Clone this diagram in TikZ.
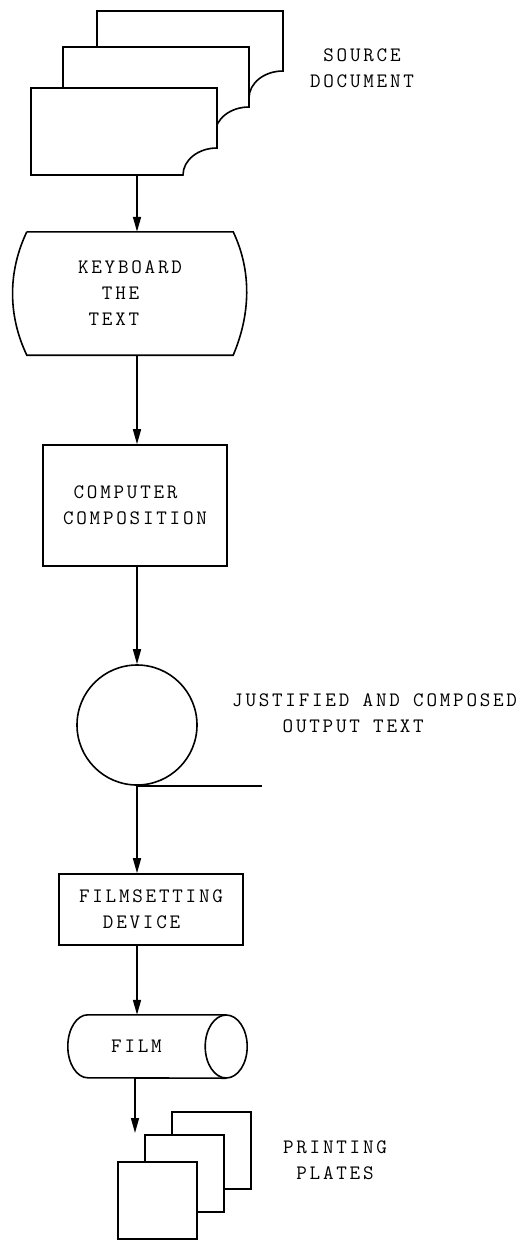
\documentclass[tikz,border=0pt]{standalone}
\usepackage{fontspec}
\setmonofont{Latin Modern Mono}[LetterSpace=13.5]
\usetikzlibrary{arrows.meta,positioning,calc}

\begin{document}
\begin{tikzpicture}[
    x=1pt, y=-1pt,
    font=\ttfamily\fontsize{20.5}{26}\selectfont,
    box/.style={draw, line width=1.6pt, inner sep=0pt, align=left},
    blank/.style={inner sep=0pt, align=left},
    sheet/.style={draw, fill=white, line width=1.6pt},
    wire/.style={line width=1.6pt},
    arr/.style={-{Triangle[length=15pt, width=8pt]}, line width=1.6pt}
]
\useasboundingbox (0,0) rectangle (524,1240);

\coordinate (spine) at (137,0);

% source document: three sheets, front one last
\node[blank, minimum width=186pt, minimum height=87pt] (source) at (124,131.5) {};
\foreach \dx/\dy in {66/-77, 32/-41, 0/0}
    \draw[sheet] (31+\dx,88+\dy) -- (217+\dx,88+\dy) -- (217+\dx,148+\dy)
        arc[start angle=270, end angle=180, x radius=34, y radius=27]
        -- (31+\dx,175+\dy) -- cycle;
\node[blank, align=center] (srclbl) at (362,68.5) {SOURCE\\DOCUMENT};

\node[blank, minimum width=206pt, minimum height=123pt] (keyboard) at (130,293.5)
    {KEYBOARD\\\phantom{KE}THE\\\phantom{K}TEXT};
\draw[wire] (keyboard.north west) -- (keyboard.north east)
    .. controls +(19,40) and +(17,-40) .. (keyboard.south east)
    -- (keyboard.south west)
    .. controls +(-19,-40) and +(-19,40) .. (keyboard.north west);

\node[box, minimum width=184pt, minimum height=121pt] (compose) at (135,505.5)
    {\phantom{C}COMPUTER\\COMPOSITION};

\node[draw, circle, line width=1.6pt, inner sep=0pt, minimum size=120pt] (tape) at (137,725) {};
\draw[wire] (tape.south) -- ++(125,0);
\node[blank, anchor=west] (outlbl) at (232,713.5)
    {JUSTIFIED AND COMPOSED\\\phantom{JUST}OUTPUT TEXT};

\node[box, minimum width=184pt, minimum height=71pt] (filmset) at (151,909.5)
    {FILMSETTING\\\phantom{FI}DEVICE};

% film drum
\node[blank, minimum width=137pt, minimum height=63pt] (film) at (136.5,1046.5) {FILM};
\draw[wire] ($(film.north east)+(21,0)$) -- ($(film.north west)+(20,0)$)
    arc[start angle=270, end angle=90, x radius=20, y radius=31.5]
    -- ($(film.south east)+(21,0)$);
\draw[wire] ($(film.east)+(21,0)$) ellipse[x radius=21, y radius=31.5];

% printing plates
\foreach \dx/\dy in {54/-50, 27/-27, 0/0}
    \draw[sheet] (118+\dx,1162+\dy) rectangle +(79,77);
\coordinate (platein) at (135,1133);
\node[blank, align=center] (plateslbl) at (335,1160) {PRINTING\\PLATES};

\draw[arr] (source.south -| spine) -- (keyboard.north -| spine);
\draw[arr] (keyboard.south -| spine) -- (compose.north -| spine);
\draw[arr] (compose.south -| spine) -- (tape.north);
\draw[arr] (tape.south) -- (tape.south |- filmset.north);
\draw[arr] (filmset.south -| spine) -- (film.north -| spine);
\draw[arr] (film.south -| platein) -- (platein);

\end{tikzpicture}
\end{document}
